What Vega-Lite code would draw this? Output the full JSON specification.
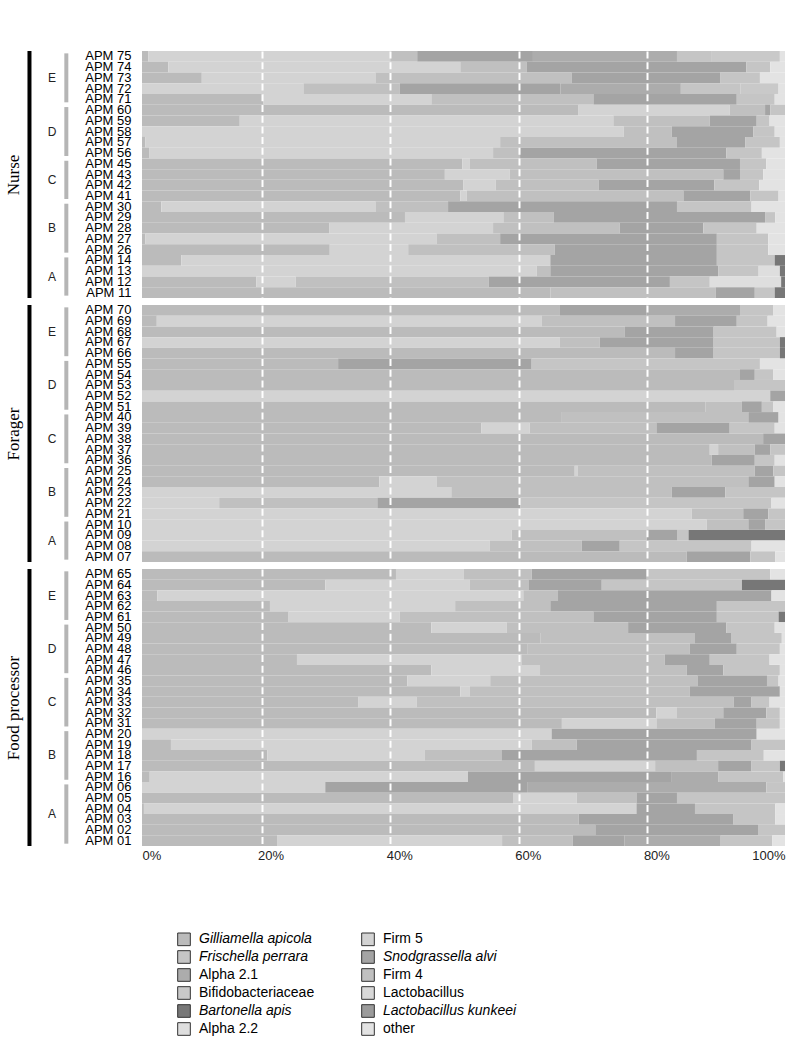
{
  "$schema": "https://vega.github.io/schema/vega-lite/v6.json",
  "padding": {"left": 4, "top": 49, "right": 10, "bottom": 2},
  "autosize": {"type": "pad"},
  "config": {
    "view": {"stroke": null},
    "font": "Liberation Sans",
    "axisY": {"titleFont": "Liberation Serif", "titleFontSize": 17, "titleFontWeight": "normal", "titleColor": "black", "titlePadding": 62, "labelFont": "Liberation Sans", "labelFontSize": 13, "labelColor": "black", "labelPadding": 11, "ticks": false, "domain": false, "labelOverlap": false, "labelBound": false, "grid": false},
    "legend": {"orient": "none", "legendX": 35, "legendY": 881, "direction": "vertical", "columns": 2, "symbolType": "square", "symbolSize": 160, "symbolStrokeColor": "#333", "symbolStrokeWidth": 1, "symbolOpacity": 1, "labelFont": "Liberation Sans", "labelFontSize": 14, "labelColor": "black", "labelOffset": 8, "columnPadding": 44, "rowPadding": 0, "labelLimit": 0}
  },
  "datasets": {
    "taxa": [
      {"key": "G", "taxon": "Gilliamella apicola", "rank": 1},
      {"key": "F5", "taxon": "Firm 5", "rank": 2},
      {"key": "F4", "taxon": "Firm 4", "rank": 3},
      {"key": "Sn", "taxon": "Snodgrassella alvi", "rank": 4},
      {"key": "A21", "taxon": "Alpha 2.1", "rank": 5},
      {"key": "Fr", "taxon": "Frischella perrara", "rank": 6},
      {"key": "Bi", "taxon": "Bifidobacteriaceae", "rank": 7},
      {"key": "La", "taxon": "Lactobacillus", "rank": 8},
      {"key": "Lk", "taxon": "Lactobacillus kunkeei", "rank": 9},
      {"key": "A22", "taxon": "Alpha 2.2", "rank": 10},
      {"key": "Ba", "taxon": "Bartonella apis", "rank": 11},
      {"key": "ot", "taxon": "other", "rank": 12}
    ],
    "groups": [
      {"role": "Nurse", "grp": "E", "first": "APM 75", "last": "APM 71", "mid": "APM 73", "pos": "center"},
      {"role": "Nurse", "grp": "D", "first": "APM 60", "last": "APM 56", "mid": "APM 58", "pos": "center"},
      {"role": "Nurse", "grp": "C", "first": "APM 45", "last": "APM 41", "mid": "APM 43", "pos": "between"},
      {"role": "Nurse", "grp": "B", "first": "APM 30", "last": "APM 26", "mid": "APM 28", "pos": "center"},
      {"role": "Nurse", "grp": "A", "first": "APM 14", "last": "APM 11", "mid": "APM 13", "pos": "between"},
      {"role": "Forager", "grp": "E", "first": "APM 70", "last": "APM 66", "mid": "APM 68", "pos": "center"},
      {"role": "Forager", "grp": "D", "first": "APM 55", "last": "APM 51", "mid": "APM 53", "pos": "center"},
      {"role": "Forager", "grp": "C", "first": "APM 40", "last": "APM 36", "mid": "APM 38", "pos": "center"},
      {"role": "Forager", "grp": "B", "first": "APM 25", "last": "APM 21", "mid": "APM 23", "pos": "center"},
      {"role": "Forager", "grp": "A", "first": "APM 10", "last": "APM 07", "mid": "APM 09", "pos": "between"},
      {"role": "Food processor", "grp": "E", "first": "APM 65", "last": "APM 61", "mid": "APM 63", "pos": "center"},
      {"role": "Food processor", "grp": "D", "first": "APM 50", "last": "APM 46", "mid": "APM 48", "pos": "center"},
      {"role": "Food processor", "grp": "C", "first": "APM 35", "last": "APM 31", "mid": "APM 33", "pos": "center"},
      {"role": "Food processor", "grp": "B", "first": "APM 20", "last": "APM 16", "mid": "APM 18", "pos": "center"},
      {"role": "Food processor", "grp": "A", "first": "APM 06", "last": "APM 01", "mid": "APM 04", "pos": "between"}
    ],
    "samples": [
      {"role": "Nurse", "sample": "APM 75", "G": 1, "F5": 37.6, "F4": 4.2, "Sn": 18, "A21": 22.4, "Fr": 5.3, "Bi": 10.7, "ot": 0.8},
      {"role": "Nurse", "sample": "APM 74", "G": 4.1, "F5": 45.4, "F4": 10.3, "Sn": 34.2, "Fr": 3.7, "ot": 2.3},
      {"role": "Nurse", "sample": "APM 73", "G": 9.3, "F5": 27, "F4": 30.5, "Sn": 23.1, "Fr": 6.2, "ot": 3.9},
      {"role": "Nurse", "sample": "APM 72", "F5": 25.1, "F4": 15, "Sn": 25, "A21": 18.7, "Fr": 9.3, "Bi": 5.9, "ot": 1},
      {"role": "Nurse", "sample": "APM 71", "G": 18.9, "F5": 26.1, "F4": 25.2, "Sn": 22.3, "Fr": 5.9, "ot": 1.6},
      {"role": "Nurse", "sample": "APM 60", "G": 67.9, "F5": 23.5, "F4": 5.5, "Sn": 0.8, "Fr": 2.3},
      {"role": "Nurse", "sample": "APM 59", "G": 15.2, "F5": 58.1, "F4": 15, "Sn": 7.3, "Fr": 2, "ot": 2.4},
      {"role": "Nurse", "sample": "APM 58", "F5": 74.9, "F4": 7.5, "Sn": 12.7, "Fr": 3.3, "ot": 1.6},
      {"role": "Nurse", "sample": "APM 57", "G": 0.5, "F5": 55.2, "F4": 27.5, "Sn": 10.6, "Fr": 5.4, "ot": 0.8},
      {"role": "Nurse", "sample": "APM 56", "G": 1.1, "F5": 53.5, "F4": 4.2, "Sn": 32.1, "Fr": 5.5, "ot": 3.6},
      {"role": "Nurse", "sample": "APM 45", "G": 49.8, "F5": 1.2, "F4": 19.7, "Sn": 22.3, "Fr": 4.1, "ot": 2.9},
      {"role": "Nurse", "sample": "APM 43", "G": 47.1, "F5": 10.1, "F4": 33.2, "Sn": 2.6, "Fr": 3.6, "ot": 3.4},
      {"role": "Nurse", "sample": "APM 42", "G": 50, "F5": 5, "F4": 16, "Sn": 18, "Fr": 7, "ot": 4},
      {"role": "Nurse", "sample": "APM 41", "G": 49.5, "F5": 1, "F4": 33.7, "Sn": 10.4, "Fr": 4.4, "ot": 1},
      {"role": "Nurse", "sample": "APM 30", "G": 3, "F5": 33.3, "F4": 11.3, "Sn": 35.6, "Fr": 11.6, "ot": 5.2},
      {"role": "Nurse", "sample": "APM 29", "G": 40.9, "F5": 15.3, "F4": 7.8, "Sn": 32.9, "Fr": 1.6, "ot": 1.5},
      {"role": "Nurse", "sample": "APM 28", "G": 29.1, "F5": 25.5, "F4": 19.7, "Sn": 13, "Fr": 8.3, "ot": 4.4},
      {"role": "Nurse", "sample": "APM 27", "G": 0.5, "F5": 45.3, "F4": 9.9, "Sn": 33.7, "Fr": 8, "ot": 2.6},
      {"role": "Nurse", "sample": "APM 26", "G": 29.2, "F5": 12.2, "F4": 22.8, "Sn": 25.2, "Fr": 8, "ot": 2.6},
      {"role": "Nurse", "sample": "APM 14", "G": 6.1, "F5": 57.4, "Sn": 25.9, "Fr": 9, "Ba": 1.6},
      {"role": "Nurse", "sample": "APM 13", "F5": 61.4, "F4": 2.1, "Sn": 26.1, "Fr": 6.3, "A22": 3.3, "Ba": 0.8},
      {"role": "Nurse", "sample": "APM 12", "G": 17.8, "F5": 6.1, "F4": 30, "Sn": 28.2, "Fr": 6.2, "A22": 11.1, "Ba": 0.6},
      {"role": "Nurse", "sample": "APM 11", "G": 63.5, "F4": 25.7, "Sn": 6.1, "Fr": 3.1, "Ba": 1.6},
      {"role": "Forager", "sample": "APM 70", "G": 65, "Sn": 13.5, "A21": 14.5, "Fr": 5.2, "ot": 1.8},
      {"role": "Forager", "sample": "APM 69", "G": 2.3, "F5": 59.9, "F4": 20.7, "Sn": 9.6, "Fr": 4.8, "ot": 2.7},
      {"role": "Forager", "sample": "APM 68", "G": 75.1, "Sn": 13.8, "Fr": 9.8, "ot": 1.3},
      {"role": "Forager", "sample": "APM 67", "F5": 65, "F4": 6.2, "Sn": 17.7, "Fr": 10.3, "Ba": 0.8},
      {"role": "Forager", "sample": "APM 66", "G": 82.9, "Sn": 6, "Fr": 10.3, "Ba": 0.8},
      {"role": "Forager", "sample": "APM 55", "G": 30.5, "Sn": 30.1, "Fr": 35.5, "ot": 3.9},
      {"role": "Forager", "sample": "APM 54", "G": 93, "Sn": 2.3, "Fr": 2.9, "ot": 1.8},
      {"role": "Forager", "sample": "APM 53", "G": 92.2, "Fr": 7.8},
      {"role": "Forager", "sample": "APM 52", "F5": 97.7, "Sn": 2.3},
      {"role": "Forager", "sample": "APM 51", "G": 87.6, "F4": 5.7, "Sn": 3.1, "Fr": 1.8, "ot": 1.8},
      {"role": "Forager", "sample": "APM 40", "G": 65.3, "F4": 29, "Sn": 4.7, "ot": 1},
      {"role": "Forager", "sample": "APM 39", "G": 52.8, "F5": 7.5, "F4": 19.7, "Sn": 11.4, "Fr": 7, "ot": 1.6},
      {"role": "Forager", "sample": "APM 38", "G": 96.6, "Sn": 3.4},
      {"role": "Forager", "sample": "APM 37", "G": 88.3, "F5": 1.3, "F4": 5.7, "Sn": 2.4, "Fr": 2.3},
      {"role": "Forager", "sample": "APM 36", "G": 88.6, "Sn": 6.7, "Fr": 3.1, "ot": 1.6},
      {"role": "Forager", "sample": "APM 25", "G": 67.3, "F5": 0.5, "F4": 27.5, "Sn": 2.9, "Fr": 1.8},
      {"role": "Forager", "sample": "APM 24", "G": 36.9, "F5": 8.9, "F4": 48.5, "Sn": 4.1, "ot": 1.6},
      {"role": "Forager", "sample": "APM 23", "F5": 48.1, "F4": 34.3, "Sn": 8.3, "Fr": 9.3},
      {"role": "Forager", "sample": "APM 22", "F5": 12, "F4": 24.6, "Sn": 22.2, "Fr": 39.1, "ot": 2.1},
      {"role": "Forager", "sample": "APM 21", "F5": 85.5, "F4": 8, "Sn": 3.9, "Fr": 2.6},
      {"role": "Forager", "sample": "APM 10", "F5": 87.8, "F4": 6.5, "Sn": 2.6, "Fr": 3.1},
      {"role": "Forager", "sample": "APM 09", "F5": 57.5, "F4": 21, "Sn": 4.7, "Fr": 1.8, "Ba": 15},
      {"role": "Forager", "sample": "APM 08", "F5": 54.1, "F4": 14.3, "Sn": 5.9, "Fr": 20.5, "ot": 5.2},
      {"role": "Forager", "sample": "APM 07", "G": 84.7, "Sn": 9.9, "Fr": 3.9, "ot": 1.5},
      {"role": "Food processor", "sample": "APM 65", "G": 39.5, "F5": 10.5, "F4": 10.6, "Sn": 17.9, "Fr": 19.2, "ot": 2.3},
      {"role": "Food processor", "sample": "APM 64", "G": 28.5, "F5": 22.5, "F4": 9.1, "Sn": 11.4, "Fr": 21.8, "Ba": 6.7},
      {"role": "Food processor", "sample": "APM 63", "G": 2.4, "F5": 56.9, "F4": 5.4, "Sn": 33.2, "ot": 2.1},
      {"role": "Food processor", "sample": "APM 62", "G": 19.9, "F5": 28.8, "F4": 14.8, "Sn": 25.9, "Fr": 10.6},
      {"role": "Food processor", "sample": "APM 61", "G": 22.8, "F5": 17.3, "F4": 30.1, "Sn": 19.2, "Fr": 9.6, "Ba": 1},
      {"role": "Food processor", "sample": "APM 50", "G": 45, "F5": 11.7, "F4": 18.9, "Sn": 15.3, "Fr": 7.5, "ot": 1.6},
      {"role": "Food processor", "sample": "APM 49", "G": 62, "F4": 24, "Sn": 5.7, "Fr": 7.8, "ot": 0.5},
      {"role": "Food processor", "sample": "APM 48", "G": 60, "F4": 25.2, "Sn": 7.3, "Fr": 6.7, "ot": 0.8},
      {"role": "Food processor", "sample": "APM 47", "G": 24.1, "F5": 34.9, "F4": 22.3, "Sn": 7, "Fr": 9.3, "ot": 2.4},
      {"role": "Food processor", "sample": "APM 46", "G": 45, "F5": 16.9, "F4": 22.8, "Sn": 5.7, "Fr": 8.8, "ot": 0.8},
      {"role": "Food processor", "sample": "APM 35", "G": 41.2, "F5": 12.9, "F4": 32.2, "Sn": 10.8, "Fr": 1.8, "ot": 1},
      {"role": "Food processor", "sample": "APM 34", "G": 49.5, "F5": 1.5, "F4": 34.2, "Sn": 14, "ot": 0.8},
      {"role": "Food processor", "sample": "APM 33", "G": 33.6, "F5": 9.1, "F4": 49.3, "Sn": 2.8, "Fr": 2.8, "ot": 2.4},
      {"role": "Food processor", "sample": "APM 32", "G": 80, "F5": 3.2, "F4": 7.2, "Sn": 6.7, "Fr": 2.1, "ot": 0.8},
      {"role": "Food processor", "sample": "APM 31", "G": 65.3, "F5": 14.7, "F4": 9.1, "Sn": 6.5, "Fr": 3.6, "ot": 0.8},
      {"role": "Food processor", "sample": "APM 20", "F5": 63.7, "Sn": 31.9, "ot": 4.4},
      {"role": "Food processor", "sample": "APM 19", "G": 4.5, "F5": 56.1, "F4": 7, "Sn": 27.2, "Fr": 5.2},
      {"role": "Food processor", "sample": "APM 18", "G": 19.5, "F5": 24.5, "F4": 11.9, "Sn": 30.4, "Fr": 10.4, "ot": 3.3},
      {"role": "Food processor", "sample": "APM 17", "G": 61.1, "F5": 18.7, "F4": 9.8, "Sn": 5.2, "Fr": 4.4, "Ba": 0.8},
      {"role": "Food processor", "sample": "APM 16", "G": 1.2, "F5": 49.5, "Sn": 31.7, "A21": 7.2, "Fr": 10.1, "ot": 0.3},
      {"role": "Food processor", "sample": "APM 06", "F5": 28.5, "Sn": 31.5, "A21": 37.1, "Fr": 2.9},
      {"role": "Food processor", "sample": "APM 05", "G": 57.7, "F5": 9.9, "F4": 9.3, "Sn": 6.3, "Fr": 16.8},
      {"role": "Food processor", "sample": "APM 04", "G": 0.3, "F5": 76.6, "Sn": 9.1, "Fr": 12.5, "ot": 1.5},
      {"role": "Food processor", "sample": "APM 03", "G": 67.9, "Sn": 24.1, "Fr": 6.5, "ot": 1.5},
      {"role": "Food processor", "sample": "APM 02", "G": 70.5, "Sn": 25.3, "Fr": 4.2},
      {"role": "Food processor", "sample": "APM 01", "G": 21, "F5": 35, "F4": 11, "Sn": 8, "A21": 15, "Fr": 8, "ot": 2}
    ]
  },
  "spacing": 3,
  "resolve": {"scale": {"color": "shared", "x": "independent", "y": "independent"}},
  "vconcat": [
    {
      "width": 643, "height": 247,
      "layer": [
        {
          "data": {"name": "samples"},
          "transform": [
            {"filter": "datum.role === 'Nurse'"},
            {"fold": ["G", "F5", "F4", "Sn", "A21", "Fr", "Bi", "La", "Lk", "A22", "Ba", "ot"], "as": ["key", "value"]},
            {"filter": "datum.value > 0"},
            {"lookup": "key", "from": {"data": {"name": "taxa"}, "key": "key", "fields": ["taxon", "rank"]}}
          ],
          "mark": {"type": "bar"},
          "encoding": {
            "y": {"field": "sample", "type": "nominal", "title": "Nurse", "scale": {"paddingInner": 0, "paddingOuter": 0, "reverse": true}},
            "x": {"field": "value", "type": "quantitative", "stack": "normalize", "scale": {"domain": [0, 1]}, "axis": {"title": null, "labels": false, "ticks": false, "domain": false, "values": [0.2, 0.4, 0.6, 0.8], "grid": true, "gridColor": "white", "gridWidth": 2, "gridDash": [7, 3.7], "gridOpacity": 1, "tickOffset": -9, "zindex": 2}},
            "color": {"field": "taxon", "type": "nominal",
              "scale": {"domain": ["Gilliamella apicola", "Frischella perrara", "Alpha 2.1", "Bifidobacteriaceae", "Bartonella apis", "Alpha 2.2", "Firm 5", "Snodgrassella alvi", "Firm 4", "Lactobacillus", "Lactobacillus kunkeei", "other"],
                        "range": ["#bbbbbb", "#c5c5c5", "#acacac", "#c9c9c9", "#777777", "#dedede", "#d3d3d3", "#a4a4a4", "#c0c0c0", "#d8d8d8", "#9b9b9b", "#e3e3e3"]},
              "legend": {"title": null, "encode": {"labels": {"update": {"fontStyle": {"signal": "test(/Gilliamella|Frischella|Bartonella|Snodgrassella|kunkeei/, datum.label) ? 'italic' : 'normal'"}}}}}},
            "order": {"field": "rank", "type": "quantitative"}
          }
        },
        {
          "data": {"values": [{}]},
          "mark": {"type": "rule", "color": "black", "strokeWidth": 4},
          "encoding": {"x": {"datum": -0.175, "type": "quantitative"}}
        },
        {
          "data": {"name": "groups"},
          "transform": [{"filter": "datum.role === 'Nurse'"}],
          "mark": {"type": "rule", "color": "#b5b5b5", "strokeWidth": 4, "yOffset": -3, "y2Offset": 3},
          "encoding": {
            "x": {"datum": -0.1177, "type": "quantitative"},
            "y": {"field": "first", "type": "nominal", "title": "Nurse"},
            "y2": {"field": "last"}
          }
        },
        {
          "data": {"name": "groups"},
          "transform": [{"filter": "datum.role === 'Nurse' && datum.pos === 'center'"}],
          "mark": {"type": "text", "fontSize": 12, "color": "#222", "font": "Liberation Sans"},
          "encoding": {
            "x": {"datum": -0.14, "type": "quantitative"},
            "y": {"field": "mid", "type": "nominal", "title": "Nurse"},
            "text": {"field": "grp"}
          }
        },
        {
          "data": {"name": "groups"},
          "transform": [{"filter": "datum.role === 'Nurse' && datum.pos === 'between'"}],
          "mark": {"type": "text", "fontSize": 12, "color": "#222", "font": "Liberation Sans"},
          "encoding": {
            "x": {"datum": -0.14, "type": "quantitative"},
            "y": {"field": "mid", "type": "nominal", "title": "Nurse", "bandPosition": 1},
            "text": {"field": "grp"}
          }
        }
      ]
    },
    {
      "width": 643, "height": 257,
      "layer": [
        {
          "data": {"name": "samples"},
          "transform": [
            {"filter": "datum.role === 'Forager'"},
            {"fold": ["G", "F5", "F4", "Sn", "A21", "Fr", "Bi", "La", "Lk", "A22", "Ba", "ot"], "as": ["key", "value"]},
            {"filter": "datum.value > 0"},
            {"lookup": "key", "from": {"data": {"name": "taxa"}, "key": "key", "fields": ["taxon", "rank"]}}
          ],
          "mark": {"type": "bar"},
          "encoding": {
            "y": {"field": "sample", "type": "nominal", "title": "Forager", "scale": {"paddingInner": 0, "paddingOuter": 0, "reverse": true}},
            "x": {"field": "value", "type": "quantitative", "stack": "normalize", "scale": {"domain": [0, 1]}, "axis": {"title": null, "labels": false, "ticks": false, "domain": false, "values": [0.2, 0.4, 0.6, 0.8], "grid": true, "gridColor": "white", "gridWidth": 2, "gridDash": [7, 3.7], "gridOpacity": 1, "tickOffset": -9, "zindex": 2}},
            "color": {"field": "taxon", "type": "nominal",
              "scale": {"domain": ["Gilliamella apicola", "Frischella perrara", "Alpha 2.1", "Bifidobacteriaceae", "Bartonella apis", "Alpha 2.2", "Firm 5", "Snodgrassella alvi", "Firm 4", "Lactobacillus", "Lactobacillus kunkeei", "other"],
                        "range": ["#bbbbbb", "#c5c5c5", "#acacac", "#c9c9c9", "#777777", "#dedede", "#d3d3d3", "#a4a4a4", "#c0c0c0", "#d8d8d8", "#9b9b9b", "#e3e3e3"]},
              "legend": {"title": null, "encode": {"labels": {"update": {"fontStyle": {"signal": "test(/Gilliamella|Frischella|Bartonella|Snodgrassella|kunkeei/, datum.label) ? 'italic' : 'normal'"}}}}}},
            "order": {"field": "rank", "type": "quantitative"}
          }
        },
        {
          "data": {"values": [{}]},
          "mark": {"type": "rule", "color": "black", "strokeWidth": 4},
          "encoding": {"x": {"datum": -0.175, "type": "quantitative"}}
        },
        {
          "data": {"name": "groups"},
          "transform": [{"filter": "datum.role === 'Forager'"}],
          "mark": {"type": "rule", "color": "#b5b5b5", "strokeWidth": 4, "yOffset": -3, "y2Offset": 3},
          "encoding": {
            "x": {"datum": -0.1177, "type": "quantitative"},
            "y": {"field": "first", "type": "nominal", "title": "Forager"},
            "y2": {"field": "last"}
          }
        },
        {
          "data": {"name": "groups"},
          "transform": [{"filter": "datum.role === 'Forager' && datum.pos === 'center'"}],
          "mark": {"type": "text", "fontSize": 12, "color": "#222", "font": "Liberation Sans"},
          "encoding": {
            "x": {"datum": -0.14, "type": "quantitative"},
            "y": {"field": "mid", "type": "nominal", "title": "Forager"},
            "text": {"field": "grp"}
          }
        },
        {
          "data": {"name": "groups"},
          "transform": [{"filter": "datum.role === 'Forager' && datum.pos === 'between'"}],
          "mark": {"type": "text", "fontSize": 12, "color": "#222", "font": "Liberation Sans"},
          "encoding": {
            "x": {"datum": -0.14, "type": "quantitative"},
            "y": {"field": "mid", "type": "nominal", "title": "Forager", "bandPosition": 1},
            "text": {"field": "grp"}
          }
        }
      ]
    },
    {
      "width": 643, "height": 277,
      "layer": [
        {
          "data": {"name": "samples"},
          "transform": [
            {"filter": "datum.role === 'Food processor'"},
            {"fold": ["G", "F5", "F4", "Sn", "A21", "Fr", "Bi", "La", "Lk", "A22", "Ba", "ot"], "as": ["key", "value"]},
            {"filter": "datum.value > 0"},
            {"lookup": "key", "from": {"data": {"name": "taxa"}, "key": "key", "fields": ["taxon", "rank"]}}
          ],
          "mark": {"type": "bar"},
          "encoding": {
            "y": {"field": "sample", "type": "nominal", "title": "Food processor", "scale": {"paddingInner": 0, "paddingOuter": 0, "reverse": true}},
            "x": {"field": "value", "type": "quantitative", "stack": "normalize", "scale": {"domain": [0, 1]}, "axis": {"title": null, "format": "%", "ticks": false, "domain": false, "values": [0, 0.2, 0.4, 0.6, 0.8, 1], "labelFlush": true, "labelFont": "Liberation Sans", "labelFontSize": 13, "labelColor": "#222", "labelPadding": 3, "grid": true, "gridColor": "white", "gridWidth": 2, "gridDash": [7, 3.7], "gridOpacity": {"condition": {"test": "datum.value == 0 || datum.value == 1", "value": 0}, "value": 1}, "tickOffset": -9, "labelOffset": 9, "zindex": 2}},
            "color": {"field": "taxon", "type": "nominal",
              "scale": {"domain": ["Gilliamella apicola", "Frischella perrara", "Alpha 2.1", "Bifidobacteriaceae", "Bartonella apis", "Alpha 2.2", "Firm 5", "Snodgrassella alvi", "Firm 4", "Lactobacillus", "Lactobacillus kunkeei", "other"],
                        "range": ["#bbbbbb", "#c5c5c5", "#acacac", "#c9c9c9", "#777777", "#dedede", "#d3d3d3", "#a4a4a4", "#c0c0c0", "#d8d8d8", "#9b9b9b", "#e3e3e3"]},
              "legend": {"title": null, "encode": {"labels": {"update": {"fontStyle": {"signal": "test(/Gilliamella|Frischella|Bartonella|Snodgrassella|kunkeei/, datum.label) ? 'italic' : 'normal'"}}}}}},
            "order": {"field": "rank", "type": "quantitative"}
          }
        },
        {
          "data": {"values": [{}]},
          "mark": {"type": "rule", "color": "black", "strokeWidth": 4},
          "encoding": {"x": {"datum": -0.175, "type": "quantitative"}}
        },
        {
          "data": {"name": "groups"},
          "transform": [{"filter": "datum.role === 'Food processor'"}],
          "mark": {"type": "rule", "color": "#b5b5b5", "strokeWidth": 4, "yOffset": -3, "y2Offset": 3},
          "encoding": {
            "x": {"datum": -0.1177, "type": "quantitative"},
            "y": {"field": "first", "type": "nominal", "title": "Food processor"},
            "y2": {"field": "last"}
          }
        },
        {
          "data": {"name": "groups"},
          "transform": [{"filter": "datum.role === 'Food processor' && datum.pos === 'center'"}],
          "mark": {"type": "text", "fontSize": 12, "color": "#222", "font": "Liberation Sans"},
          "encoding": {
            "x": {"datum": -0.14, "type": "quantitative"},
            "y": {"field": "mid", "type": "nominal", "title": "Food processor"},
            "text": {"field": "grp"}
          }
        },
        {
          "data": {"name": "groups"},
          "transform": [{"filter": "datum.role === 'Food processor' && datum.pos === 'between'"}],
          "mark": {"type": "text", "fontSize": 12, "color": "#222", "font": "Liberation Sans"},
          "encoding": {
            "x": {"datum": -0.14, "type": "quantitative"},
            "y": {"field": "mid", "type": "nominal", "title": "Food processor", "bandPosition": 1},
            "text": {"field": "grp"}
          }
        }
      ]
    }
  ]
}
